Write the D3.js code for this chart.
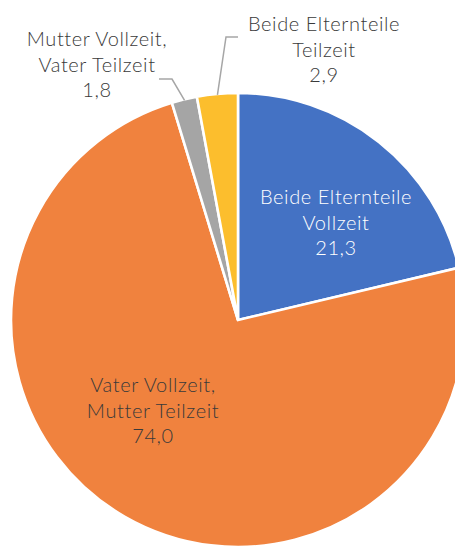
<!DOCTYPE html>
<html>
<head>
<meta charset="utf-8">
<script src="https://cdn.jsdelivr.net/npm/d3@7"></script>
<style>
    html, body { margin: 0; padding: 0; background: #fff; overflow: hidden; }
    #chart text { font-family: Lato, "Open Sans", sans-serif; font-weight: 300; font-size: 20px; letter-spacing: 0.6px; }
</style>
</head>
<body>
<div id="chart"></div>
<script>
"use strict";

// Data (Anteile in %)
const categories = ["Beide Elternteile Vollzeit", "Vater Vollzeit, Mutter Teilzeit", "Mutter Vollzeit, Vater Teilzeit", "Beide Elternteile Teilzeit"];
const values = [21.3, 74.0, 1.8, 2.9];
const labelLines = [
    ["Beide Elternteile", "Vollzeit"],
    ["Vater Vollzeit,", "Mutter Teilzeit"],
    ["Mutter Vollzeit,", "Vater Teilzeit"],
    ["Beide Elternteile", "Teilzeit"]
];
const colors = ["#4472c4", "#f0823e", "#a5a5a5", "#fcbe2d"];

// Layout
const width = 455, height = 547;
const cx = 238, cy = 320, radius = 227;
// label centre (x), first baseline (y), relative to pie centre
const labelPos = [
    { x: 98, y: -116, fill: "#ffffff" },
    { x: -85, y: 72, fill: "#3a3a3a" },
    { x: -141, y: -274, fill: "#3a3a3a", elbow: [[-66, -241], [-79, -241]] },
    { x: 86, y: -289, fill: "#3a3a3a", elbow: [[-12, -283], [0, -283]] }
];
const lineHeight = 25.5;
const fmt = v => d3.format(".1f")(v).replace(".", ",");

const svg = d3.select("#chart")
    .append("svg")
    .attr("width", width)
    .attr("height", height)
    .append("g")
    .attr("transform", `translate(${cx}, ${cy})`);

const pie = d3.pie().value(d => d).sort(null);
const arc = d3.arc().innerRadius(0).outerRadius(radius);
const arcs = pie(values);

svg.selectAll(".slice")
    .data(arcs)
    .join("path")
    .attr("class", "slice")
    .attr("d", arc)
    .attr("fill", (d, i) => colors[i])
    .attr("stroke", "#ffffff")
    .attr("stroke-width", 2.6)
    .attr("stroke-linejoin", "miter");

// leader lines for the small slices
arcs.forEach((d, i) => {
    const lp = labelPos[i];
    if (!lp.elbow) return;
    const mid = (d.startAngle + d.endAngle) / 2;
    const pt = [(radius - 1) * Math.sin(mid), -(radius - 1) * Math.cos(mid)];
    svg.append("polyline")
        .attr("points", [pt, ...lp.elbow].map(p => p.join(",")).join(" "))
        .attr("fill", "none")
        .attr("stroke", "#a6a6a6")
        .attr("stroke-width", 1.5);
});

// labels
const labels = svg.selectAll(".label")
    .data(arcs)
    .join("text")
    .attr("class", "label")
    .attr("text-anchor", "middle")
    .attr("fill", (d, i) => labelPos[i].fill);

labels.each(function (d, i) {
    const t = d3.select(this);
    const lines = labelLines[i].concat([fmt(values[i])]);
    lines.forEach((s, k) => {
        t.append("tspan")
            .attr("x", labelPos[i].x)
            .attr("y", labelPos[i].y + k * lineHeight)
            .text(s);
    });
});
</script>
</body>
</html>
